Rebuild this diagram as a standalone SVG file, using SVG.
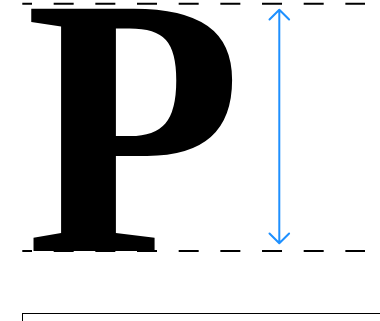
<svg xmlns="http://www.w3.org/2000/svg" width="380" height="321" viewBox="0 0 380 321">
<style>
.guide{stroke:#000;stroke-width:2;stroke-dasharray:20 21.67;stroke-dashoffset:10.3;fill:none}
.dim{stroke:#1E90FF;stroke-width:2;fill:none;stroke-linecap:round;stroke-linejoin:round}
.glyph{font-family:"Liberation Serif","Times New Roman",serif;font-weight:bold;font-size:370px;fill:#000}
</style>
<rect width="380" height="321" fill="#fff"/>
<g id="letter" transform="translate(30,0) scale(0.96,1) translate(-30,0)">
<text class="glyph" x="25" y="251">P</text>
</g>
<g id="connectors">
<line class="guide" x1="22.3" y1="3.7" x2="365" y2="3.7"/>
<line class="guide" x1="22.3" y1="251" x2="365" y2="251"/>
<path class="dim" d="M279.3 10 V243 M269.5 19.5 L279.3 9.7 L289.1 19.5 M269.5 233.5 L279.3 243.3 L289.1 233.5"/>
</g>
<g id="box">
<rect x="22.5" y="313.5" width="370" height="30" fill="none" stroke="#000" stroke-width="1"/>
</g>
</svg>
